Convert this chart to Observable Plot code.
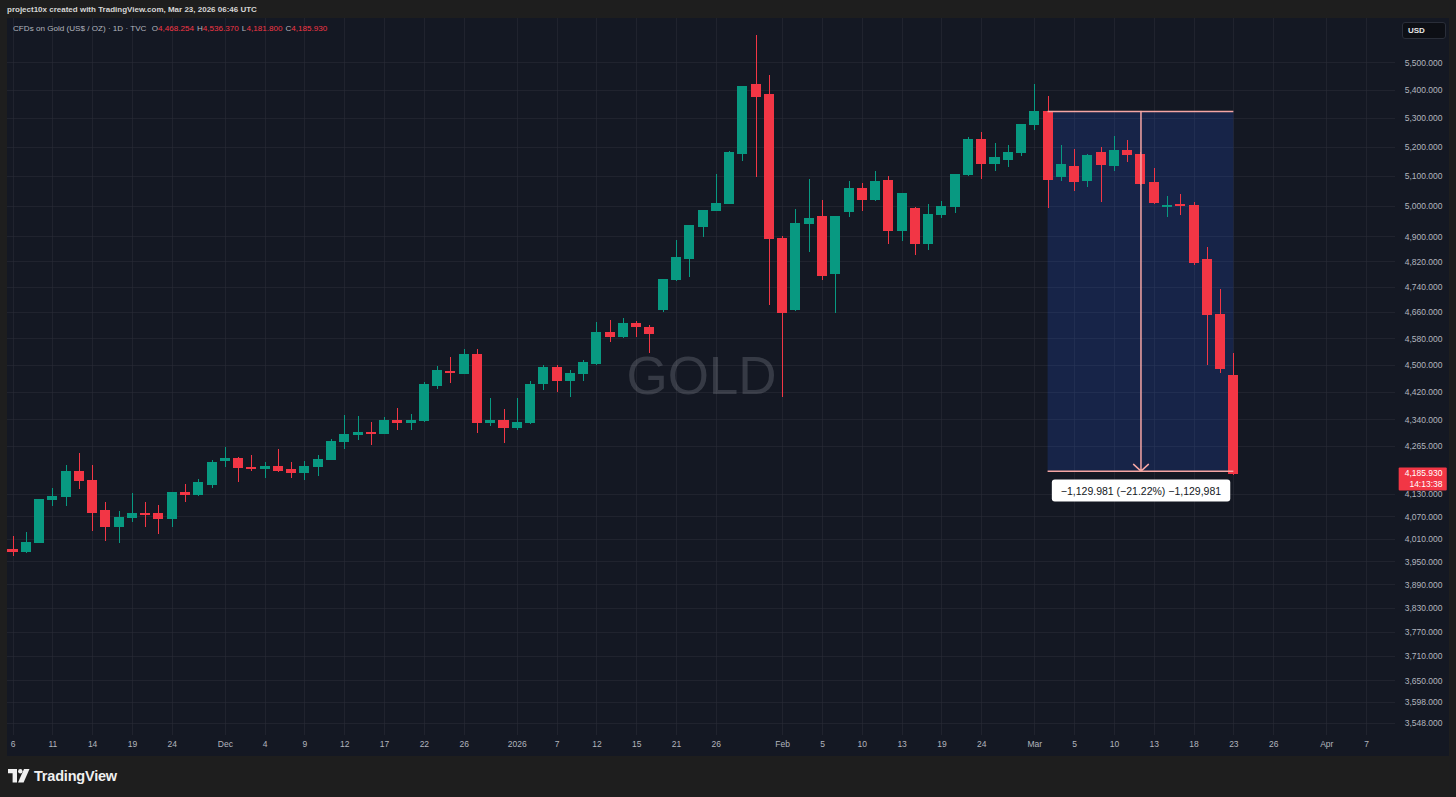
<!DOCTYPE html>
<html>
<head>
<meta charset="utf-8">
<script src="https://cdn.jsdelivr.net/npm/d3@7"></script>
<script src="https://cdn.jsdelivr.net/npm/@observablehq/plot@0.6"></script>
<style>
  html, body { margin: 0; padding: 0; }
  body { width: 1456px; height: 797px; overflow: hidden; position: relative; background: #1e1e1e;
         font-family: "Liberation Sans", Arial, sans-serif; }
  #top { position: absolute; left: 7px; top: 4px; font-size: 8px; font-weight: 600; color: #d6d6d6; line-height: 12px; white-space: nowrap; }
  #panel { position: absolute; left: 7px; top: 18px; width: 1442px; height: 738px; }
  #legend { position: absolute; left: 13px; top: 24px; font-size: 8.1px; color: #b2b5be; line-height: 10px; white-space: nowrap; }
  #legend .v { color: #f23645; }
  #legend .k { margin-left: 3px; }
  #usd { position: absolute; left: 1402px; top: 22px; border: 1px solid #2a2e39; border-radius: 3px;
         background: #0d0f15; color: #e6e6e6; font-size: 8px; font-weight: 700; line-height: 15px; padding-left: 5px; box-sizing: border-box; width: 44px; height: 17px; }
  #brand { position: absolute; left: 8px; top: 768px; display: flex; align-items: center; gap: 4px; color: #f0f0f0; }
  #brand span { font-size: 14.5px; font-weight: 700; letter-spacing: -0.2px; }
</style>
</head>
<body>
<div id="top">project10x created with TradingView.com, Mar 23, 2026 06:46 UTC</div>
<div id="panel"></div>
<div id="legend"></div>
<div id="usd">USD</div>
<div id="brand">
  <svg width="22" height="14" viewBox="0 0 22 14"><path d="M0 0H9V13.5H4.6V4.2H0Z" fill="#f0f0f0"/><circle cx="12.3" cy="2.2" r="2.2" fill="#f0f0f0"/><path d="M16 0H21.5L15.6 13.5H10Z" fill="#f0f0f0"/></svg>
  <span>TradingView</span>
</div>
<script>
// ---- data (daily candles, CFDs on Gold, TVC) ----
const dates = [
  "2025-11-06","2025-11-07","2025-11-10","2025-11-11","2025-11-12","2025-11-13","2025-11-14","2025-11-17","2025-11-18","2025-11-19",
  "2025-11-20","2025-11-21","2025-11-24","2025-11-25","2025-11-26","2025-11-28",
  "2025-12-01","2025-12-02","2025-12-03","2025-12-04","2025-12-05","2025-12-08","2025-12-09","2025-12-10","2025-12-11","2025-12-12",
  "2025-12-15","2025-12-16","2025-12-17","2025-12-18","2025-12-19","2025-12-22","2025-12-23","2025-12-24","2025-12-26","2025-12-29",
  "2025-12-30","2025-12-31",
  "2026-01-02","2026-01-05","2026-01-06","2026-01-07","2026-01-08","2026-01-09","2026-01-12","2026-01-13","2026-01-14","2026-01-15",
  "2026-01-16","2026-01-20","2026-01-21","2026-01-22","2026-01-23","2026-01-26","2026-01-27","2026-01-28","2026-01-29","2026-01-30",
  "2026-02-02","2026-02-03","2026-02-04","2026-02-05","2026-02-06","2026-02-09","2026-02-10","2026-02-11","2026-02-12","2026-02-13",
  "2026-02-17","2026-02-18","2026-02-19","2026-02-20","2026-02-23","2026-02-24","2026-02-25","2026-02-26","2026-02-27",
  "2026-03-02","2026-03-03","2026-03-04","2026-03-05","2026-03-06","2026-03-09","2026-03-10","2026-03-11","2026-03-12","2026-03-13",
  "2026-03-16","2026-03-17","2026-03-18","2026-03-19","2026-03-20","2026-03-23"
];
const opens = [
  3981,3977,4000,4115,4125,4194,4169,4085,4043,4067, 4077,4077,4064,4134,4128,4156,4222,4229,4205,4201,
  4208,4197,4190,4206,4227,4277,4297,4303,4301,4338, 4331,4336,4439,4481,4475,4530,4331,4338,4317,4330,
  4445,4492,4453,4475,4504,4597,4585,4626,4613,4668, 4761,4830,4933,4984,5007,5177,5419,5383,4893,4668,
  4943,4965,4780,4981,5057,5020,5085,4919,4993,4877, 4973,4997,5106,5225,5142,5158,5179,5278,5323,5099,
  5133,5085,5179,5137,5187,5175,5080,5000,5005,5003, 4825,4653,4468.254
];
const highs = [
  4017,4027,4118,4147,4210,4244,4210,4109,4084,4133, 4110,4101,4137,4158,4172,4226,4262,4233,4239,4220,
  4257,4218,4222,4238,4284,4352,4349,4334,4347,4374, 4355,4448,4497,4524,4547,4549,4402,4371,4401,4453,
  4499,4499,4485,4514,4631,4636,4643,4633,4620,4764, 4887,4938,4987,5108,5186,5416,5600,5453,4900,4989,
  5091,5020,4968,5085,5076,5117,5099,5043,4998,5008, 5017,5108,5234,5252,5215,5206,5281,5422,5379,5206,
  5194,5175,5200,5237,5223,5183,5126,5033,5041,5014, 4865,4733,4536.370
];
const lows = [
  3964,3972,3998,4098,4098,4145,4031,4005,3998,4055, 4040,4022,4040,4109,4125,4148,4205,4163,4193,4174,
  4192,4176,4169,4181,4224,4255,4282,4268,4299,4309, 4309,4334,4428,4446,4474,4301,4322,4272,4309,4326,
  4426,4421,4405,4451,4501,4570,4582,4583,4537,4660, 4757,4769,4898,4982,5005,5152,5097,4681,4404,4664,
  4849,4759,4656,4965,4984,5017,4877,4885,4839,4855, 4960,4978,5099,5091,5119,5131,5167,5259,4995,5082,
  5049,5063,5012,5117,5148,5070,5006,4965,4971,4807, 4500,4477,4181.800
];
const closes = [
  3975,4000,4115,4125,4194,4169,4081,4043,4067,4077, 4074,4064,4134,4129,4161,4217,4229,4205,4200,4208,
  4195,4190,4206,4227,4277,4297,4303,4299,4338,4330, 4338,4441,4482,4476,4530,4330,4338,4317,4330,4443,
  4492,4453,4475,4506,4597,4585,4626,4616,4594,4761, 4831,4935,4984,5007,5179,5413,5376,4893,4658,4943,
  4959,4775,4965,5057,5020,5083,4919,5040,4877,4973, 4997,5106,5225,5142,5163,5179,5278,5322,5088,5139,
  5082,5171,5139,5189,5175,5074,5013,5003,5001,4817, 4654,4490,4185.930
];

// axis ticks
const yTicks = [5500,5400,5300,5200,5100,5000,4900,4820,4740,4660,4580,4500,4420,4340,4265,
                4130,4070,4010,3950,3890,3830,3770,3710,3650,3598,3548];
const xTickIdx = [0,3,6,9,12,16,19,22,25,28,31,34,38,41,44,47,50,53,58,61,64,67,70,73,77,80,83,86,89,92,95,99,102];
const xTickLabels = ["6","11","14","19","24","Dec","4","9","12","17","22","26","2026","7","12","15","21","26",
                     "Feb","5","10","13","19","24","Mar","5","10","13","18","23","26","Apr","7"];

// price range measurement (Mar 3 -> Mar 23)
const measureFrom = "2026-03-03";
const measureTo = "2026-03-23";
const measureTop = 5325.0;
const measureBottom = 4195.019;
const measureText = "\u22121,129.981 (\u221221.22%) \u22121,129,981";
const lastTime = "14:13:38";

// ---- build ----
const UP = "#089981", DOWN = "#f23645";
const candles = dates.map((d, i) => ({i, date: d, open: opens[i], high: highs[i], low: lows[i], close: closes[i]}));
const colorOf = d => d.close >= d.open ? UP : DOWN;
const i0 = dates.indexOf(measureFrom), i1 = dates.indexOf(measureTo);
const measure = {x1: i0, x2: i1, xm: (i0 + i1) / 2, top: measureTop, bottom: measureBottom};
const last = candles[candles.length - 1];
const fmt = d3.format(",.3f");

document.getElementById("legend").innerHTML =
  `CFDs on Gold (US$ / OZ) · 1D · TVC <span class="k">O</span><span class="v">${fmt(last.open)}</span>` +
  `<span class="k">H</span><span class="v">${fmt(last.high)}</span>` +
  `<span class="k">L</span><span class="v">${fmt(last.low)}</span>` +
  `<span class="k">C</span><span class="v">${fmt(last.close)}</span>`;

const FONT = "'Liberation Sans', Arial, sans-serif";
const chart = Plot.plot({
  width: 1442,
  height: 738,
  marginLeft: 0,
  marginRight: 54,
  marginTop: 0,
  marginBottom: 21,
  x: {domain: [-0.4145, 104.18], axis: null},
  y: {type: "log", domain: [3520.4, 5664], axis: null},
  style: {background: "#141823", fontFamily: FONT, fontSize: "8.5px", color: "#b2b5be", overflow: "visible"},
  marks: [
    Plot.gridY(yTicks, {stroke: "#2a2e39", strokeOpacity: 0.55, shapeRendering: "crispEdges"}),
    Plot.gridX(xTickIdx, {stroke: "#2a2e39", strokeOpacity: 0.55, shapeRendering: "crispEdges"}),
    Plot.text(["GOLD"], {text: d => d, frameAnchor: "middle", fontSize: 53, fill: "#b2b5be", fillOpacity: 0.22, fontFamily: FONT}),
    Plot.rect([measure], {x1: "x1", x2: "x2", y1: "bottom", y2: "top", fill: "#2962ff", fillOpacity: 0.17}),
    Plot.ruleX(candles, {x: "i", y1: "low", y2: "high", stroke: colorOf, strokeWidth: 1, shapeRendering: "crispEdges"}),
    Plot.rect(candles, {x1: d => d.i - 0.34, x2: d => d.i + 0.34, y1: "open", y2: "close",
                        fill: colorOf, stroke: colorOf, strokeWidth: 1, shapeRendering: "crispEdges"}),
    Plot.ruleY([measure.top, measure.bottom], {y: d => d, x1: () => measure.x1, x2: () => measure.x2, stroke: "#f5a6a4", strokeWidth: 1.5}),
    Plot.arrow([measure], {x1: "xm", x2: "xm", y1: "top", y2: "bottom", stroke: "#f5a6a4", strokeWidth: 1.5, headLength: 10, headAngle: 95}),
    Plot.text([measure], {x: "xm", y: "bottom", dy: 20, text: () => measureText, fill: "#131722", fontSize: 10.5}),
    Plot.text(yTicks, {y: d => d, text: d => fmt(d), frameAnchor: "right", dx: 47, textAnchor: "end", fill: "#b2b5be"}),
    Plot.text(xTickIdx, {x: d => d, text: (d, k) => xTickLabels[k], frameAnchor: "bottom", dy: 11, fill: "#b2b5be"}),
    Plot.text([last], {y: "close", text: d => fmt(d.close) + "\n" + lastTime, frameAnchor: "right", dx: 47, dy: 4,
                       textAnchor: "end", lineHeight: 1.3, fill: "#ffffff"})
  ]
});
document.getElementById("panel").appendChild(chart);

// label backgrounds (sized from the rendered text)
function addBg(match, fill, padL, padR, padT, padB, rx) {
  const t = Array.from(chart.querySelectorAll("text")).find(el => match(el.textContent));
  if (!t) return;
  const g = t.closest("g") || t;
  const sb = chart.getBoundingClientRect();
  const tb = t.getBoundingClientRect();
  const r = document.createElementNS("http://www.w3.org/2000/svg", "rect");
  r.setAttribute("x", tb.left - sb.left - padL);
  r.setAttribute("y", tb.top - sb.top - padT);
  r.setAttribute("width", tb.width + padL + padR);
  r.setAttribute("height", tb.height + padT + padB);
  r.setAttribute("rx", rx);
  r.setAttribute("fill", fill);
  g.parentNode.insertBefore(r, g);
}
addBg(s => s === measureText, "#ffffff", 9, 9, 5, 5, 3);
addBg(s => s.includes(lastTime), "#f23645", 6, 4, 1, 1, 1);
</script>
</body>
</html>
